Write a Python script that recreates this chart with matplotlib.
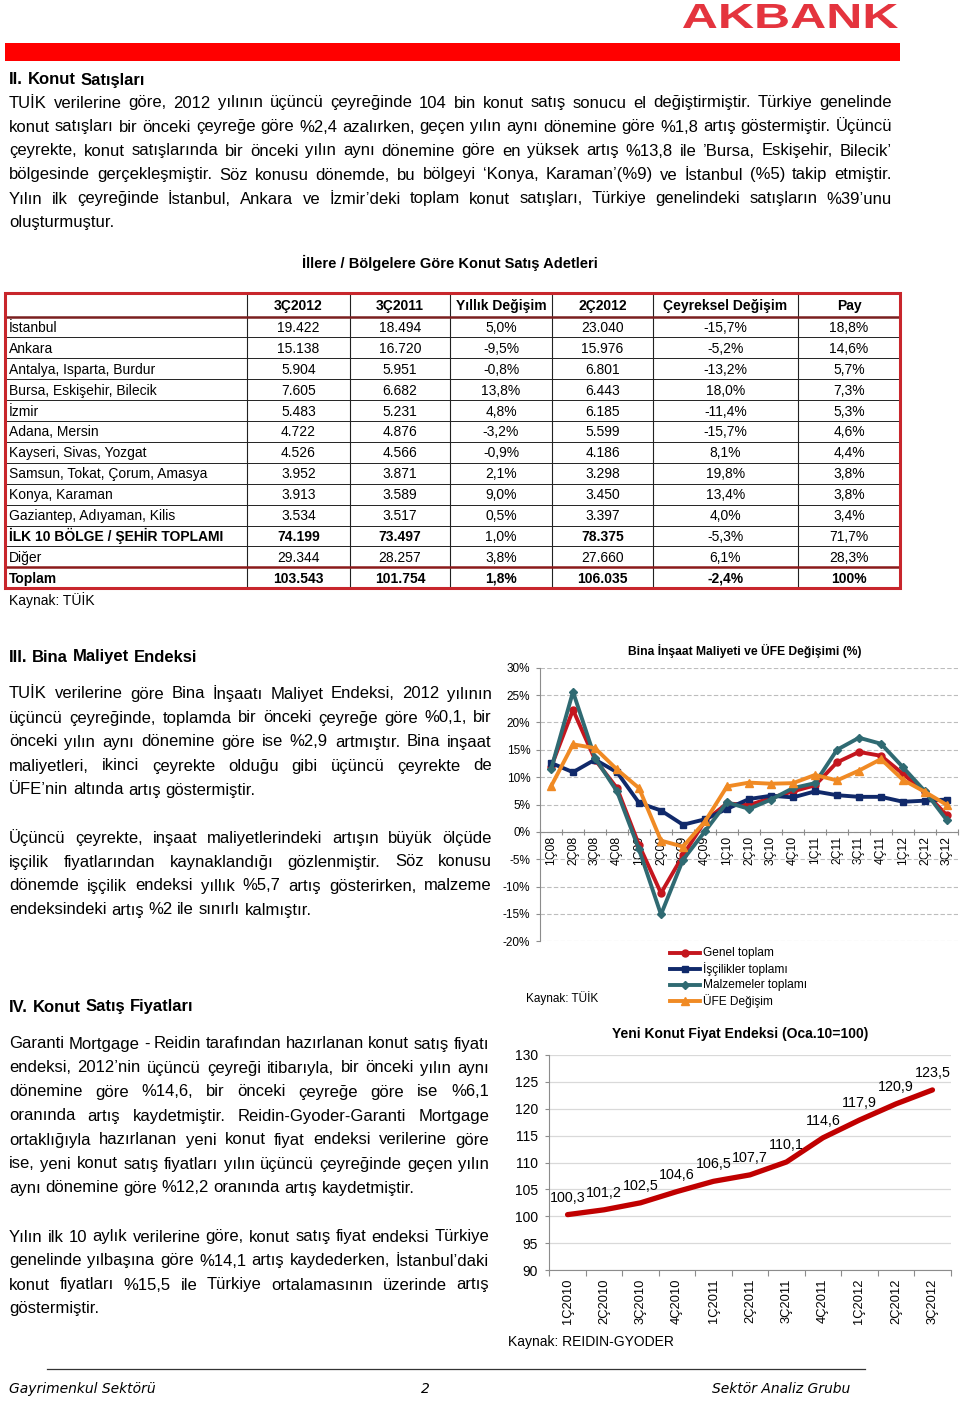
import numpy as np
import matplotlib
matplotlib.use("Agg")
import matplotlib.pyplot as plt
from matplotlib.textpath import TextPath
from matplotlib.patches import PathPatch, Rectangle
from matplotlib.font_manager import FontProperties
from matplotlib.transforms import Affine2D

FONT = ['Liberation Sans', 'DejaVu Sans']
plt.rcParams['font.family'] = FONT

# ---------------- data ----------------
table_cols = ["3Ç2012", "3Ç2011", "Yıllık Değişim", "2Ç2012", "Çeyreksel Değişim", "Pay"]
regions = ["İstanbul", "Ankara", "Antalya, Isparta, Burdur", "Bursa, Eskişehir, Bilecik", "İzmir",
           "Adana, Mersin", "Kayseri, Sivas, Yozgat", "Samsun, Tokat, Çorum, Amasya", "Konya, Karaman",
           "Gaziantep, Adıyaman, Kilis", "İLK 10 BÖLGE / ŞEHİR TOPLAMI", "Diğer", "Toplam"]
sales_3q2012 = ["19.422", "15.138", "5.904", "7.605", "5.483", "4.722", "4.526", "3.952", "3.913", "3.534", "74.199", "29.344", "103.543"]
sales_3q2011 = ["18.494", "16.720", "5.951", "6.682", "5.231", "4.876", "4.566", "3.871", "3.589", "3.517", "73.497", "28.257", "101.754"]
yoy_change = ["5,0%", "-9,5%", "-0,8%", "13,8%", "4,8%", "-3,2%", "-0,9%", "2,1%", "9,0%", "0,5%", "1,0%", "3,8%", "1,8%"]
sales_2q2012 = ["23.040", "15.976", "6.801", "6.443", "6.185", "5.599", "4.186", "3.298", "3.450", "3.397", "78.375", "27.660", "106.035"]
qoq_change = ["-15,7%", "-5,2%", "-13,2%", "18,0%", "-11,4%", "-15,7%", "8,1%", "19,8%", "13,4%", "4,0%", "-5,3%", "6,1%", "-2,4%"]
share = ["18,8%", "14,6%", "5,7%", "7,3%", "5,3%", "4,6%", "4,4%", "3,8%", "3,8%", "3,4%", "71,7%", "28,3%", "100%"]

quarters1 = ["1Ç08", "2Ç08", "3Ç08", "4Ç08", "1Ç09", "2Ç09", "3Ç09", "4Ç09", "1Ç10", "2Ç10", "3Ç10",
             "4Ç10", "1Ç11", "2Ç11", "3Ç11", "4Ç11", "1Ç12", "2Ç12", "3Ç12"]
genel = [11.8, 22.3, 13.2, 8.0, -2.4, -11.2, -4.3, 2.0, 5.2, 4.9, 6.2, 7.4, 8.5, 12.7, 14.6, 13.9, 10.6, 7.2, 3.0]
iscilik = [12.6, 10.9, 13.2, 10.9, 5.3, 3.9, 1.3, 2.3, 4.2, 6.0, 6.6, 6.3, 7.4, 6.7, 6.4, 6.4, 5.5, 5.7, 5.9]
malzeme = [11.4, 25.6, 13.5, 7.4, -3.2, -15.1, -5.1, 0.1, 5.4, 4.2, 5.9, 8.0, 8.9, 15.0, 17.2, 16.1, 11.8, 7.4, 2.1]
ufe = [8.3, 16.0, 15.3, 11.4, 8.0, -1.6, -2.7, 1.9, 8.3, 9.0, 8.8, 8.9, 10.4, 9.4, 11.2, 13.3, 9.5, 7.3, 4.9]
series_names = ["Genel toplam", "İşçilikler toplamı", "Malzemeler toplamı", "ÜFE Değişim"]

quarters2 = ["1Ç2010", "2Ç2010", "3Ç2010", "4Ç2010", "1Ç2011", "2Ç2011", "3Ç2011", "4Ç2011",
             "1Ç2012", "2Ç2012", "3Ç2012"]
price_index = [100.3, 101.2, 102.5, 104.6, 106.5, 107.7, 110.1, 114.6, 117.9, 120.9, 123.5]

# ---------------- page ----------------
W, H = 960, 1402
fig = plt.figure(figsize=(W / 100, H / 100), dpi=100)
ax0 = fig.add_axes([0, 0, 1, 1])
ax0.set_xlim(0, W)
ax0.set_ylim(H, 0)
ax0.axis('off')
renderer = fig.canvas.get_renderer()


def px_axes(l, t, r, b):
    return fig.add_axes([l / W, 1 - b / H, (r - l) / W, (b - t) / H])


def put_line(s, x0, x1, yc, justify, fs=12, weight='normal', style='normal', color='black'):
    words = s.split()
    yb = yc + fs * 100 / 72 * 0.33
    ts = [ax0.text(x0, yb, w, fontsize=fs, fontweight=weight, fontstyle=style, color=color,
                   va='baseline', ha='left') for w in words]
    ws = [t.get_window_extent(renderer).width for t in ts]
    gap = fs * 100 / 72 * 0.278
    if justify and len(ws) > 1:
        gap = max((x1 - x0 - sum(ws)) / (len(ws) - 1), 1.5)
    x = x0
    for t, w in zip(ts, ws):
        t.set_x(x)
        x += w + gap


def paragraph(lines, x0, x1, y0, step=24, fs=12):
    for i, s in enumerate(lines):
        put_line(s, x0, x1, y0 + i * step, i < len(lines) - 1, fs=fs)


# header logo
tp = TextPath((0, 0), "AKBANK", size=100, prop=FontProperties(family='Liberation Sans', weight='bold'))
bb = tp.get_extents()
tr = Affine2D().translate(-bb.x0, -bb.y0).scale(215 / bb.width, -24 / bb.height).translate(683, 28) + ax0.transData
ax0.add_patch(PathPatch(tp, transform=tr, facecolor='#E4343E', edgecolor='none'))
ax0.add_patch(Rectangle((5, 43), 895, 18, facecolor='#FF0000', edgecolor='none'))

# Section II
put_line("II. Konut Satışları", 9, 300, 79, False, fs=12, weight='bold')
sec2 = [
    "TUİK verilerine göre, 2012 yılının üçüncü çeyreğinde 104 bin konut satış sonucu el değiştirmiştir. Türkiye genelinde",
    "konut satışları bir önceki çeyreğe göre %2,4 azalırken, geçen yılın aynı dönemine göre %1,8 artış göstermiştir. Üçüncü",
    "çeyrekte, konut satışlarında bir önceki yılın aynı dönemine göre en yüksek artış %13,8 ile ’Bursa, Eskişehir, Bilecik’",
    "bölgesinde gerçekleşmiştir. Söz konusu dönemde, bu bölgeyi ‘Konya, Karaman’(%9) ve İstanbul (%5) takip etmiştir.",
    "Yılın ilk çeyreğinde İstanbul, Ankara ve İzmir’deki toplam konut satışları, Türkiye genelindeki satışların %39’unu",
    "oluşturmuştur.",
]
paragraph(sec2, 9, 892, 102)

# Table
ax0.text(450, 263, "İllere / Bölgelere Göre Konut Satış Adetleri", fontsize=10.5, fontweight='bold',
         ha='center', va='center')
col_edges = [5, 247, 350, 450, 552, 653, 798, 900]
top, head_b, rh = 293, 316.5, 20.9
row_edges = [top, head_b] + [head_b + rh * (i + 1) for i in range(len(regions))]
bottom = row_edges[-1]
for y in row_edges[2:-1]:
    ax0.plot([5, 900], [y, y], color='#222222', lw=0.7, zorder=2)
for x in col_edges[1:-1]:
    ax0.plot([x, x], [top, bottom], color='#222222', lw=0.8, zorder=2)
ax0.plot([5, 900], [head_b, head_b], color='#7A1F1F', lw=1.8, zorder=3)
ax0.plot([5, 900], [row_edges[-2], row_edges[-2]], color='#8B1A1A', lw=1.8, zorder=3)
ax0.add_patch(Rectangle((5, top), 895, bottom - top, fill=False, edgecolor='#C8262C', lw=2.2, zorder=4))
centers = [(col_edges[i] + col_edges[i + 1]) / 2 for i in range(len(col_edges) - 1)]
TFS = 10
off = TFS * 100 / 72 * 0.36
for j, c in enumerate(table_cols):
    ax0.text(centers[j + 1], (top + head_b) / 2 + off, c, fontsize=TFS, fontweight='bold', ha='center', va='baseline')
cols = [sales_3q2012, sales_3q2011, yoy_change, sales_2q2012, qoq_change, share]
for i, name in enumerate(regions):
    yc = (row_edges[i + 1] + row_edges[i + 2]) / 2 + off
    bold_lbl = i >= 10 and name != "Diğer"
    ax0.text(9, yc, name, fontsize=TFS, fontweight='bold' if bold_lbl else 'normal', ha='left', va='baseline')
    for j, col in enumerate(cols):
        if name == "Toplam":
            b = True
        elif i == 10:
            b = j in (0, 1, 3)
        else:
            b = False
        ax0.text(centers[j + 1], yc, col[i], fontsize=TFS, fontweight='bold' if b else 'normal',
                 ha='center', va='baseline')
ax0.text(9, 600 + off, "Kaynak: TÜİK", fontsize=TFS, va='baseline')

# Section III
put_line("III. Bina Maliyet Endeksi", 9, 300, 656, False, fs=12, weight='bold')
sec3a = [
    "TUİK verilerine göre Bina İnşaatı Maliyet Endeksi, 2012 yılının",
    "üçüncü çeyreğinde, toplamda bir önceki çeyreğe göre %0,1, bir",
    "önceki yılın aynı dönemine göre ise %2,9 artmıştır. Bina inşaat",
    "maliyetleri, ikinci çeyrekte olduğu gibi üçüncü çeyrekte de",
    "ÜFE’nin altında artış göstermiştir.",
]
sec3b = [
    "Üçüncü çeyrekte, inşaat  maliyetlerindeki artışın büyük ölçüde",
    "işçilik fiyatlarından kaynaklandığı gözlenmiştir. Söz konusu",
    "dönemde işçilik endeksi yıllık %5,7 artış gösterirken, malzeme",
    "endeksindeki artış %2 ile sınırlı kalmıştır.",
]
paragraph(sec3a, 9, 492, 693)
paragraph(sec3b, 9, 492, 837)

# Section IV
put_line("IV. Konut Satış Fiyatları", 9, 300, 1006, False, fs=12, weight='bold')
sec4a = [
    "Garanti Mortgage - Reidin tarafından hazırlanan konut satış fiyatı",
    "endeksi, 2012’nin üçüncü çeyreği itibarıyla, bir önceki yılın aynı",
    "dönemine göre %14,6, bir önceki çeyreğe göre ise %6,1",
    "oranında artış kaydetmiştir. Reidin-Gyoder-Garanti Mortgage",
    "ortaklığıyla hazırlanan yeni konut fiyat endeksi verilerine göre",
    "ise, yeni konut satış fiyatları yılın üçüncü çeyreğinde geçen yılın",
    "aynı dönemine göre %12,2 oranında artış kaydetmiştir.",
]
sec4b = [
    "Yılın ilk 10 aylık verilerine göre, konut satış fiyat endeksi Türkiye",
    "genelinde yılbaşına göre %14,1 artış kaydederken, İstanbul’daki",
    "konut fiyatları %15,5 ile Türkiye ortalamasının üzerinde artış",
    "göstermiştir.",
]
paragraph(sec4a, 9, 489, 1043)
paragraph(sec4b, 9, 489, 1236)

# Footer
ax0.plot([47, 865], [1369, 1369], color='#333333', lw=0.9)
ax0.text(9, 1389, "Gayrimenkul Sektörü", fontsize=10, fontstyle='italic', family='DejaVu Sans', va='center')
ax0.text(425, 1389, "2", fontsize=10, fontstyle='italic', family='DejaVu Sans', va='center', ha='center')
ax0.text(712, 1389, "Sektör Analiz Grubu", fontsize=10, fontstyle='italic', family='DejaVu Sans', va='center')

# ---------------- chart 1 ----------------
colors = ['#C4161E', '#10296A', '#2F6A72', '#F08A24']
markers = ['o', 's', 'D', '^']
msizes = [5, 5, 4.5, 6]
ax1 = px_axes(540, 667.7, 958, 941.3)
ax1.set_facecolor('none')
x1 = np.arange(len(quarters1))
for vals, c, m, ms, nm in zip([genel, iscilik, malzeme, ufe], colors, markers, msizes, series_names):
    ax1.plot(x1, vals, color=c, lw=2.8, marker=m, ms=ms, mfc=c, mec=c, label=nm, zorder=3,
             solid_joinstyle='round')
ax1.set_xlim(-0.5, len(quarters1) - 0.5)
ax1.set_ylim(-20, 30)
yt = np.arange(-20, 31, 5)
ax1.set_yticks(yt, [f"{v}%" for v in yt])
ax1.grid(axis='y', color='#BDBDBD', linestyle=(0, (4, 2)), lw=0.8, zorder=0)
ax1.set_axisbelow(True)
for s in ['top', 'right']:
    ax1.spines[s].set_visible(False)
ax1.spines['bottom'].set_position(('data', 0))
ax1.spines['bottom'].set_color('#8C8C8C')
ax1.spines['left'].set_color('#8C8C8C')
ax1.set_xticks(np.arange(-0.5, len(quarters1), 1), [''] * (len(quarters1) + 1))
ax1.set_xticks(x1, quarters1, minor=True, rotation=90, fontsize=8.8)
ax1.tick_params(axis='x', which='major', direction='inout', length=5, color='#8C8C8C')
ax1.tick_params(axis='x', which='minor', length=0, pad=3)
ax1.tick_params(axis='y', labelsize=8.5, length=3, color='#8C8C8C', pad=4)
ax0.text(745, 651, "Bina İnşaat Maliyeti ve ÜFE Değişimi (%)", fontsize=8.7, fontweight='bold',
         ha='center', va='center')
ax0.text(526, 998, "Kaynak: TÜİK", fontsize=8.5, va='center')
for k, (nm, c, m, ms) in enumerate(zip(series_names, colors, markers, msizes)):
    y = 953 + 16 * k
    ax0.plot([670, 700], [y, y], color=c, lw=2.8)
    ax0.plot([685], [y], marker=m, color=c, ms=ms)
    ax0.text(703, y, nm, fontsize=8.6, va='center')

# ---------------- chart 2 ----------------
ax2 = px_axes(549.3, 1055, 950.7, 1270)
ax2.set_facecolor('none')
x2 = np.arange(len(quarters2))
ax2.plot(x2, price_index, color='#C00000', lw=3.8, solid_capstyle='round', solid_joinstyle='round', zorder=3)
for xi, v in zip(x2, price_index):
    ax2.annotate(f"{v:.1f}".replace('.', ','), (xi, v), xytext=(0, 17), textcoords='offset pixels',
                 ha='center', va='center', fontsize=10.3)
ax2.set_xlim(-0.5, len(quarters2) - 0.5)
ax2.set_ylim(90, 130)
ax2.set_yticks(np.arange(90, 131, 5))
ax2.grid(axis='y', color='#D9D9D9', lw=0.9, zorder=0)
ax2.set_axisbelow(True)
for s in ['top', 'right']:
    ax2.spines[s].set_visible(False)
ax2.spines['bottom'].set_color('#8C8C8C')
ax2.spines['left'].set_color('#8C8C8C')
ax2.set_xticks(np.arange(-0.5, len(quarters2), 1), [''] * (len(quarters2) + 1))
ax2.set_xticks(x2, quarters2, minor=True, rotation=90, fontsize=9.3)
ax2.tick_params(axis='x', which='major', direction='out', length=4, color='#8C8C8C')
ax2.tick_params(axis='x', which='minor', length=0, pad=6)
ax2.tick_params(axis='y', labelsize=10, length=3, color='#8C8C8C', pad=5)
ax0.text(740, 1034, "Yeni Konut Fiyat Endeksi (Oca.10=100)", fontsize=10, fontweight='bold',
         ha='center', va='center')
ax0.text(508, 1342, "Kaynak: REIDIN-GYODER", fontsize=10, va='center')

fig.savefig("out.png", dpi=100)
